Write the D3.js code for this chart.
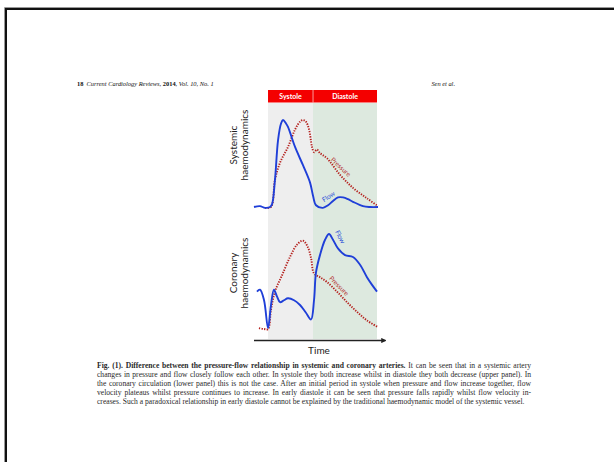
<!DOCTYPE html>
<html lang="en">
<head>
  <meta charset="UTF-8">
  <title>Pressure-flow relationship</title>
  <script src="https://d3js.org/d3.v7.min.js"></script>
  <style>
    body {
      margin: 0;
      background: #fff;
    }

    .panel-label {
      font-family: Lato, "Open Sans", sans-serif;
      font-size: 10px;
      fill: #222;
    }

    .curve-label {
      font-family: Lato, "Open Sans", sans-serif;
      font-size: 6.5px;
    }

    .caption {
      font-family: "Liberation Serif", "DejaVu Serif", serif;
      font-size: 7.6px;
      fill: #2a2a2a;
    }
  </style>
</head>
<body>
  <div id="chart"></div>

  <script>
    // time is in arbitrary units 0..100, values in % of peak
    const phases = ["Systole", "Diastole"];
    const phaseBounds = [11.3, 47.6, 99.2];

    const systemicFlow = [
      [0, 0], [4.8, 1], [8.9, -1], [12.9, 0], [14.5, 3], [16.9, 31], [19.4, 77],
      [21.8, 96], [23.4, 100], [25.8, 96], [27.4, 92], [33.1, 69], [39.5, 48],
      [45.2, 28], [47.6, 13], [50, 2], [55.6, -1], [59.7, 2], [63.7, 7],
      [67.7, 11], [71.8, 11], [75.8, 9], [79.8, 6], [87.9, 1], [93.5, 0], [100, 0]
    ];
    const systemicPressure = [
      [8.9, -1], [13.7, 0], [16.9, 31], [21, 51], [27.4, 69], [33.1, 89],
      [37.1, 98], [39.5, 100], [41.9, 98], [44.4, 89], [46.8, 69], [48.4, 63],
      [50.8, 66], [53.2, 62], [58.9, 56], [69.4, 37], [79.8, 22], [91.1, 10], [100, 1]
    ];
    const coronaryFlow = [
      [2.4, 40], [4.8, 42], [8.1, 31], [11.3, 2], [13.7, 26], [16.1, 42],
      [18.5, 35], [21, 29], [24.2, 31], [27.4, 33], [32.3, 31], [37.1, 26],
      [41.9, 18], [46, 11], [48.4, 31], [50, 60], [53.2, 78], [57.3, 94],
      [60.5, 100], [63.7, 94], [67.7, 85], [73.4, 78], [79.8, 76], [85.5, 68],
      [91.1, 55], [95.2, 47], [99.2, 40]
    ];
    const coronaryPressure = [
      [4, 2], [8.1, 1], [11.3, 1], [13.7, 21], [16.9, 40], [22.6, 57], [29, 76],
      [34.7, 89], [39.5, 93], [43.5, 86], [46, 75], [48.4, 59], [53.2, 55],
      [58.9, 50], [66.9, 40], [75, 29], [83, 19], [91.1, 10], [100, 3]
    ];

    // curve labels: [time, value, angle]
    const systemicLabels = [
      { text: "Pressure", t: 70, v: 46, angle: 43, color: "#b5322f" },
      { text: "Flow", t: 60, v: 12, angle: -34, color: "#2347d8" }
    ];
    const coronaryLabels = [
      { text: "Flow", t: 69.5, v: 97, angle: 63, color: "#2347d8" },
      { text: "Pressure", t: 68.5, v: 46, angle: 45, color: "#b5322f" }
    ];

    const headerLeft = [
      { text: "18", style: "normal", weight: "bold" },
      { text: "  Current Cardiology Reviews,", style: "italic", weight: "normal" },
      { text: " 2014", style: "normal", weight: "bold" },
      { text: ", Vol. 10, No. 1", style: "italic", weight: "normal" }
    ];

    const captionLines = [
      [["Fig. (1). Difference between the pressure-flow relationship in systemic and coronary arteries.", "bold"],
       [" It can be seen that in a systemic artery", "normal"]],
      [["changes in pressure and flow closely follow each other. In systole they both increase whilst in diastole they both decrease (upper panel). In", "normal"]],
      [["the coronary circulation (lower panel) this is not the case. After an initial period in systole when pressure and flow increase together, flow", "normal"]],
      [["velocity plateaus whilst pressure continues to increase. In early diastole it can be seen that pressure falls rapidly whilst flow velocity in-", "normal"]],
      [["creases. Such a paradoxical relationship in early diastole cannot be explained by the traditional haemodynamic model of the systemic vessel.", "normal"]]
    ];

    const width = 614;
    const height = 462;

    const svg = d3.select("#chart")
      .append("svg")
      .attr("width", width)
      .attr("height", height);

    // page border (scanned page edge)
    svg.append("path")
      .attr("d", `M4.5,${height}V7.5H${width}`)
      .attr("fill", "none")
      .attr("stroke", "#999")
      .attr("stroke-width", 1);
    svg.append("path")
      .attr("d", `M6,${height}V9H${width}`)
      .attr("fill", "none")
      .attr("stroke", "#111")
      .attr("stroke-width", 2);

    // running header
    const header = svg.append("text")
      .attr("x", 77)
      .attr("y", 86)
      .style("font-family", "'Liberation Serif', serif")
      .style("font-size", "6.4px")
      .attr("fill", "#111")
      .attr("xml:space", "preserve");
    header.selectAll("tspan")
      .data(headerLeft)
      .enter()
      .append("tspan")
      .style("font-style", d => d.style)
      .style("font-weight", d => d.weight)
      .text(d => d.text);

    svg.append("text")
      .attr("x", 455)
      .attr("y", 86)
      .attr("text-anchor", "end")
      .style("font-family", "'Liberation Serif', serif")
      .style("font-size", "6.4px")
      .style("font-style", "italic")
      .attr("fill", "#111")
      .text("Sen et al.");

    const x = d3.scaleLinear()
      .domain([0, 100])
      .range([254, 378]);

    const ySys = d3.scaleLinear()
      .domain([0, 100])
      .range([207, 120]);

    const yCor = d3.scaleLinear()
      .domain([0, 100])
      .range([330, 234]);

    const shadeTop = 103;
    const shadeBottom = 339;

    // phase backgrounds
    const phaseColors = ["#eeeeee", "#dde9df"];
    svg.selectAll(".phase-bg")
      .data(phases)
      .enter()
      .append("rect")
      .attr("class", "phase-bg")
      .attr("x", (d, i) => x(phaseBounds[i]))
      .attr("y", shadeTop)
      .attr("width", (d, i) => x(phaseBounds[i + 1]) - x(phaseBounds[i]))
      .attr("height", shadeBottom - shadeTop)
      .attr("fill", (d, i) => phaseColors[i]);

    // red phase bar
    const bar = svg.selectAll(".phase-bar")
      .data(phases)
      .enter()
      .append("g")
      .attr("class", "phase-bar");

    bar.append("rect")
      .attr("x", (d, i) => x(phaseBounds[i]))
      .attr("y", 90)
      .attr("width", (d, i) => x(phaseBounds[i + 1]) - x(phaseBounds[i]))
      .attr("height", 12.5)
      .attr("fill", "#f40000");

    bar.append("text")
      .attr("x", (d, i) => (x(phaseBounds[i]) + x(phaseBounds[i + 1])) / 2)
      .attr("y", 96.5)
      .attr("dy", "0.35em")
      .attr("text-anchor", "middle")
      .style("font-family", "Lato, 'Open Sans', sans-serif")
      .style("font-size", "7px")
      .style("font-weight", "bold")
      .attr("fill", "#fff")
      .text(d => d);

    svg.append("line")
      .attr("x1", x(phaseBounds[1]))
      .attr("x2", x(phaseBounds[1]))
      .attr("y1", 90)
      .attr("y2", 102.5)
      .attr("stroke", "#fff")
      .attr("stroke-width", 0.6);

    // draws one panel
    function drawPanel(y, flow, pressure, labels) {
      const line = d3.line()
        .x(d => x(d[0]))
        .y(d => y(d[1]))
        .curve(d3.curveCatmullRom.alpha(0.5));

      svg.append("path")
        .attr("d", line(pressure))
        .attr("fill", "none")
        .attr("stroke", "#b5221f")
        .attr("stroke-width", 1.9)
        .attr("stroke-dasharray", "1.3,1.3");

      svg.append("path")
        .attr("d", line(flow))
        .attr("fill", "none")
        .attr("stroke", "#1f3fd8")
        .attr("stroke-width", 1.9)
        .attr("stroke-linejoin", "round");

      svg.selectAll(null)
        .data(labels)
        .enter()
        .append("text")
        .attr("class", "curve-label")
        .attr("transform", d => `translate(${x(d.t)},${y(d.v)}) rotate(${d.angle})`)
        .attr("text-anchor", "middle")
        .attr("dy", "0.35em")
        .attr("fill", d => d.color)
        .text(d => d.text);
    }

    drawPanel(ySys, systemicFlow, systemicPressure, systemicLabels);
    drawPanel(yCor, coronaryFlow, coronaryPressure, coronaryLabels);

    // panel titles
    function panelTitle(cy, lines) {
      const g = svg.append("g")
        .attr("transform", `translate(0,${cy})`);
      g.selectAll("text")
        .data(lines)
        .enter()
        .append("text")
        .attr("class", "panel-label")
        .attr("transform", (d, i) => `translate(${233 + i * 11},0) rotate(-90)`)
        .attr("text-anchor", "middle")
        .attr("dy", "0.35em")
        .text(d => d);
    }
    panelTitle(145, ["Systemic", "haemodynamics"]);
    panelTitle(273, ["Coronary", "haemodynamics"]);

    // time axis with arrow
    svg.append("defs")
      .append("marker")
      .attr("id", "arrow")
      .attr("viewBox", "0 0 10 10")
      .attr("refX", 8)
      .attr("refY", 5)
      .attr("markerWidth", 4)
      .attr("markerHeight", 4)
      .attr("orient", "auto")
      .append("path")
      .attr("d", "M0,0L10,5L0,10z")
      .attr("fill", "#222");

    svg.append("line")
      .attr("x1", x(0))
      .attr("x2", x(106))
      .attr("y1", 340.5)
      .attr("y2", 340.5)
      .attr("stroke", "#222")
      .attr("stroke-width", 1.3)
      .attr("marker-end", "url(#arrow)");

    svg.append("text")
      .attr("class", "panel-label")
      .attr("x", 319)
      .attr("y", 350)
      .attr("dy", "0.35em")
      .attr("text-anchor", "middle")
      .text("Time");

    // caption, justified line by line
    const capLeft = 97;
    const capRight = 531;
    const capTop = 368;
    const lineGap = 9;

    captionLines.forEach((parts, i) => {
      const t = svg.append("text")
        .attr("class", "caption")
        .attr("x", capLeft)
        .attr("y", capTop + i * lineGap)
        .attr("xml:space", "preserve");
      parts.forEach(p => {
        t.append("tspan")
          .style("font-weight", p[1])
          .text(p[0]);
      });
      if (i < captionLines.length - 1) {
        const natural = t.node().getComputedTextLength();
        const spaces = parts.map(p => p[0]).join("").split(" ").length - 1;
        t.style("word-spacing", ((capRight - capLeft - natural) / spaces) + "px");
      }
    });
  </script>
</body>
</html>
